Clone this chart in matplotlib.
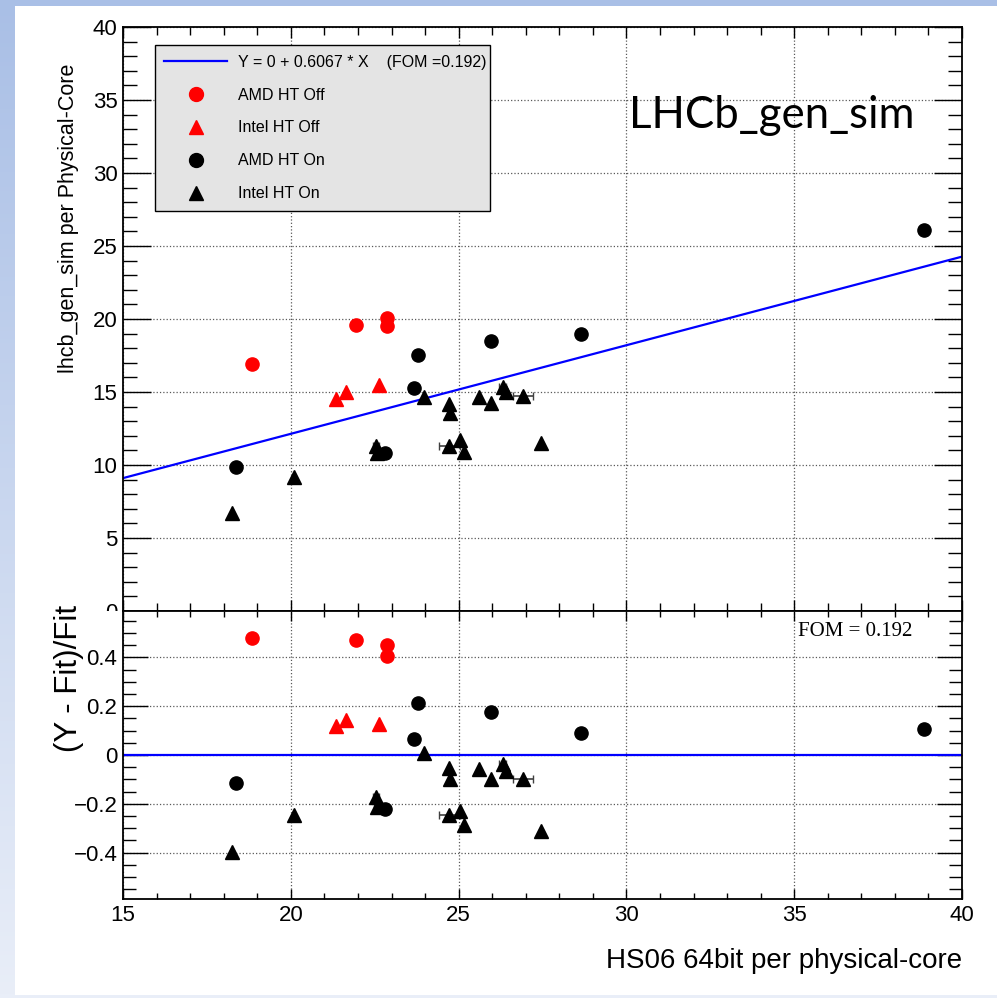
import numpy as np
import matplotlib
matplotlib.use("Agg")
import matplotlib.pyplot as plt
from matplotlib.lines import Line2D
from matplotlib.patches import Rectangle
from matplotlib.ticker import MultipleLocator, FuncFormatter
from matplotlib.transforms import Bbox, TransformedBbox

plt.rcParams["font.family"] = ["Liberation Sans", "DejaVu Sans"]

# fit: Y = 0 + slope * X
slope     = 0.6067
fom       = 0.192
fit_label = "Y = 0 + 0.6067 * X    (FOM =0.192)"

# HS06 per physical core (x) and lhcb_gen_sim per physical core (y)
amd_off_x   = [18.84, 21.94, 22.87, 22.87]
amd_off_y   = [16.9, 19.6, 20.1, 19.5]

intel_off_x = [21.35, 21.64, 22.63]
intel_off_y = [14.5, 15.0, 15.5]

amd_on_x    = [18.37, 22.81, 23.67, 23.79, 25.97, 28.65, 38.87]
amd_on_y    = [9.86, 10.8, 15.3, 17.5, 18.5, 18.97, 26.1]
amd_on_xerr = [0.0, 0.0, 0.0, 0.12, 0.0, 0.0, 0.0]

intel_on_x    = [18.26, 20.10, 22.54, 22.58, 23.97, 24.70, 24.75, 24.72,
                 25.03, 25.17, 25.62, 25.97, 26.31, 26.40, 26.92, 27.46]
intel_on_y    = [6.69, 9.2, 11.3, 10.8, 14.64, 14.18, 13.54, 11.32,
                 11.71, 10.91, 14.64, 14.22, 15.36, 14.98, 14.75, 11.49]
intel_on_xerr = [0.0, 0.0, 0.1, 0.1, 0.0, 0.0, 0.0, 0.31,
                 0.0, 0.0, 0.0, 0.0, 0.1, 0.0, 0.31, 0.0]

series = [
    ("AMD HT Off",   amd_off_x,   amd_off_y,   None,          "o", "red"),
    ("Intel HT Off", intel_off_x, intel_off_y, None,          "^", "red"),
    ("AMD HT On",    amd_on_x,    amd_on_y,    amd_on_xerr,   "o", "black"),
    ("Intel HT On",  intel_on_x,  intel_on_y,  intel_on_xerr, "^", "black"),
]

W, H = 997, 998
fig = plt.figure(figsize=(W / 100, H / 100), dpi=100)

# slide-like background: blue gradient frame, white page
bg = fig.add_axes([0, 0, 1, 1], zorder=-10)
top_c = np.array([169, 191, 230]) / 255.
bot_c = np.array([233, 238, 248]) / 255.
t = np.linspace(0, 1, 256)[:, None, None]
grad = top_c[None, None, :] * (1 - t) + bot_c[None, None, :] * t
bg.imshow(grad, extent=[0, W, H, 0], aspect="auto")
bg.add_patch(Rectangle((15, 6), W - 15, 989, facecolor="white", edgecolor="none"))
bg.set_xlim(0, W)
bg.set_ylim(H, 0)
bg.axis("off")

ax1 = fig.add_axes([0.1234, 0.3878, 0.8415, 0.5852])
ax2 = fig.add_axes([0.1234, 0.0992, 0.8415, 0.2886])

xfit = np.array([15, 40])
ax1.plot(xfit, slope * xfit, color="#0000ff", lw=1.6, zorder=2)
ax2.axhline(0, color="#0000ff", lw=1.6, zorder=2)

handles = [Line2D([], [], color="#0000ff", lw=1.6)]
labels = [fit_label]
for lbl, x, y, xerr, mk, col in series:
    x = np.array(x)
    y = np.array(y)
    res = (y - slope * x) / (slope * x)
    ms = 9.5 if mk == "o" else 10.5
    for ax, yy in ((ax1, y), (ax2, res)):
        ax.errorbar(x, yy, xerr=xerr, fmt=mk, color=col, ms=ms, mec=col,
                    ecolor="0.25", elinewidth=1.2, capsize=3, zorder=3)
    handles.append(Line2D([], [], ls="none", marker=mk, color=col, ms=10))
    labels.append(lbl)

for ax in (ax1, ax2):
    ax.set_xlim(15, 40)
    ax.xaxis.set_major_locator(MultipleLocator(5))
    ax.xaxis.set_minor_locator(MultipleLocator(1))
    ax.grid(True, which="major", ls=":", color="0.35", lw=0.9)
    ax.tick_params(which="both", direction="in", top=True, right=True,
                   labelsize=16, width=1.0, pad=4)
    for s in ax.spines.values():
        s.set_linewidth(1.3)

ax1.set_ylim(0, 40)
ax1.yaxis.set_major_locator(MultipleLocator(5))
ax1.yaxis.set_minor_locator(MultipleLocator(1))
ax1.tick_params(axis="y", which="major", length=20)
ax1.tick_params(axis="y", which="minor", length=10)
ax1.tick_params(axis="x", which="major", length=8)
ax1.tick_params(axis="x", which="minor", length=5.5)
ax1.tick_params(axis="x", labelbottom=False)
ax1.set_ylabel("lhcb_gen_sim per Physical-Core", fontsize=15.5)
ax1.yaxis.set_label_coords(-0.052, 0.673)

ax2.set_ylim(-0.59, 0.59)
ax2.yaxis.set_major_locator(MultipleLocator(0.2))
ax2.yaxis.set_minor_locator(MultipleLocator(0.05))
ax2.yaxis.set_major_formatter(FuncFormatter(
    lambda v, p: "0" if abs(v) < 1e-9 else ("%g" % v).replace("-", "\u2212")))
ax2.tick_params(axis="y", which="major", length=18)
ax2.tick_params(axis="y", which="minor", length=9.5)
ax2.tick_params(axis="x", which="major", length=7)
ax2.tick_params(axis="x", which="minor", length=4.5)
ax2.set_ylabel("(Y - Fit)/Fit", fontsize=22.5)
ax2.yaxis.set_label_coords(-0.047, 0.767)
ax2.set_xlabel("HS06 64bit per physical-core", loc="right", fontsize=20,
               labelpad=16)

# the "0" of the upper pad is cut by the lower pad
clip = TransformedBbox(Bbox([[0, 0.3878], [1, 1]]), fig.transFigure)
fig.canvas.draw()
for lab in ax1.get_yticklabels():
    lab.set_clip_box(clip)
    lab.set_clip_on(True)

leg = ax1.legend(handles, labels, loc="upper left", mode="expand",
                 bbox_to_anchor=(0.038, 0.969, 0.399, 0.0), fancybox=False,
                 facecolor="#e4e4e4", edgecolor="black", framealpha=1,
                 handlelength=3.9, handletextpad=0.7, labelspacing=1.12,
                 borderpad=0.6, borderaxespad=0, prop={"size": 11.5})
leg.get_frame().set_linewidth(1.0)

ax1.text(0.7735, 0.848, "LHCb_gen_sim", transform=ax1.transAxes, ha="center",
         va="center", fontsize=31.5, family=["Lato", "DejaVu Sans"])
ax2.text(0.8725, 0.93, "FOM = 0.192", transform=ax2.transAxes, ha="center",
         va="center", fontsize=15, family=["Liberation Serif", "DejaVu Serif"])

fig.savefig("out.png", dpi=100)
